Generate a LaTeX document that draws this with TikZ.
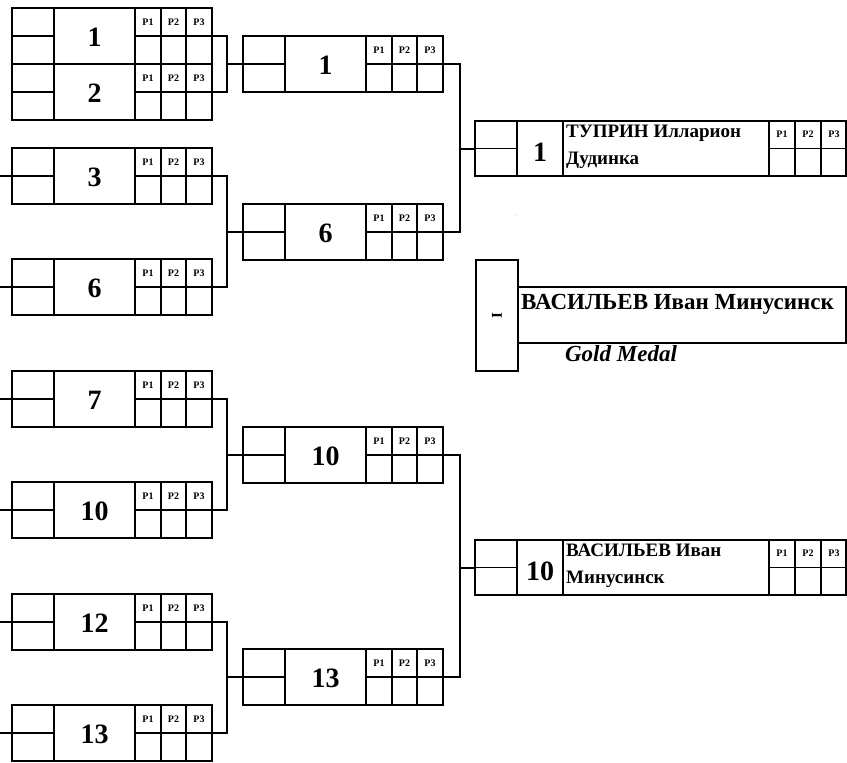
\documentclass[tikz,border=0pt]{standalone}
\usepackage{fontspec}
\setmainfont{Liberation Serif}
\usetikzlibrary{calc}
\tikzset{
  mbox/.style={draw, line width=2pt, minimum width=200pt, minimum height=56pt, inner sep=0pt, outer sep=0pt},
  finalbox/.style={draw, line width=2pt, minimum width=371pt, minimum height=55pt, inner sep=0pt, outer sep=0pt},
  cellline/.style={line width=1.8pt},
  numtext/.style={font=\fontsize{28}{28}\selectfont\bfseries, inner sep=0pt},
  plab/.style={font=\fontsize{10}{10}\selectfont\bfseries, inner sep=0pt},
  nametext/.style={font=\fontsize{19}{19}\selectfont\bfseries, inner sep=0pt, anchor=base west},
  conn/.style={line width=2pt, line cap=rect},
}
% \rbox{name}{left x}{center y}{number}
\newcommand\rbox[4]{%
  \node[mbox] (#1) at ({#2+100},#3) {};
  \foreach \dx in {42,123,149,174} {\draw[cellline] ({#2+\dx},{#3-28}) -- ({#2+\dx},{#3+28});}
  \draw[cellline] (#2,#3) -- ({#2+42},#3);
  \draw[cellline] ({#2+123},#3) -- ({#2+200},#3);
  \node[numtext] (#1n) at ({#2+82.5},{#3+1}) {#4};
  \node[plab] (#1pa) at ({#2+136},{#3-14}) {P1};
  \node[plab] (#1pb) at ({#2+161.5},{#3-14}) {P2};
  \node[plab] (#1pc) at ({#2+187},{#3-14}) {P3};
}
% \finbox{name}{center y}{number}{line1}{line2}
\newcommand\finbox[5]{%
  \node[finalbox] (#1) at (660.5,#2) {};
  \foreach \xx in {517,563,769,795,821} {\draw[cellline] (\xx,{#2-27.5}) -- (\xx,{#2+27.5});}
  \draw[cellline] (475,#2) -- (517,#2);
  \draw[cellline] (769,#2) -- (846,#2);
  \node[numtext] (#1n) at (540,{#2+4}) {#3};
  \node[nametext] (#1ta) at (566,{#2-11}) {#4};
  \node[nametext] (#1tb) at (566,{#2+16}) {#5};
  \node[plab] (#1pa) at (782,{#2-14}) {P1};
  \node[plab] (#1pb) at (808,{#2-14}) {P2};
  \node[plab] (#1pc) at (834,{#2-14}) {P3};
}
\begin{document}
\begin{tikzpicture}[x=1pt,y=-1pt]
\useasboundingbox (0,0) rectangle (847,763);
% round 1
\rbox{ba}{12}{36}{1}
\rbox{bb}{12}{92}{2}
\rbox{bc}{12}{176}{3}
\rbox{bd}{12}{287}{6}
\rbox{be}{12}{399}{7}
\rbox{bf}{12}{510}{10}
\rbox{bg}{12}{622}{12}
\rbox{bh}{12}{733}{13}
% round 2
\rbox{ca}{243}{64}{1}
\rbox{cb}{243}{232}{6}
\rbox{cc}{243}{455}{10}
\rbox{cd}{243}{677}{13}
% round 3
\finbox{fa}{148.5}{1}{ТУПРИН Илларион}{Дудинка}
\finbox{fb}{567.5}{10}{ВАСИЛЬЕВ Иван}{Минусинск}
% left stubs
\foreach \b in {bc,bd,be,bf,bg,bh} {\draw[conn] (\b.west) -- ++(-12,0);}
% brackets round 1 -> 2
\draw[conn] (ba.east) -- ++(15,0) coordinate (ja) |- (bb.east);
\draw[conn] (ja |- ca.west) -- (ca.west);
\draw[conn] (bc.east) -- ++(15,0) coordinate (jb) |- (bd.east);
\draw[conn] (jb |- cb.west) -- (cb.west);
\draw[conn] (be.east) -- ++(15,0) coordinate (jc) |- (bf.east);
\draw[conn] (jc |- cc.west) -- (cc.west);
\draw[conn] (bg.east) -- ++(15,0) coordinate (jd) |- (bh.east);
\draw[conn] (jd |- cd.west) -- (cd.west);
% brackets round 2 -> 3
\draw[conn] (ca.east) -- ++(17,0) coordinate (je) |- (cb.east);
\draw[conn] (je |- fa.west) -- (fa.west);
\draw[conn] (cc.east) -- ++(17,0) coordinate (jf) |- (cd.east);
\draw[conn] (jf |- fb.west) -- (fb.west);
% gold medal
\node[draw, line width=2pt, minimum width=42pt, minimum height=111pt, inner sep=0pt, outer sep=0pt] (gtall) at (497,315.5) {};
\node[draw, line width=2pt, minimum width=328pt, minimum height=56pt, inner sep=0pt, outer sep=0pt] (gwide) at (682,315) {};
\node[rotate=90, font=\fontsize{15}{15}\selectfont\bfseries, inner sep=0pt] (gplace) at (gtall.center) {I};
\node[font=\fontsize{23}{23}\selectfont\bfseries, inner sep=0pt, anchor=base west] (gname) at (521,309) {ВАСИЛЬЕВ Иван Минусинск};
\node[font=\fontsize{23}{23}\selectfont\bfseries\itshape, inner sep=0pt, anchor=base] (gmedal) at (621,361) {Gold Medal};
\node[font=\fontsize{3}{3}\selectfont, inner sep=0pt] (gdot) at (515,216) {'};
\end{tikzpicture}
\end{document}
